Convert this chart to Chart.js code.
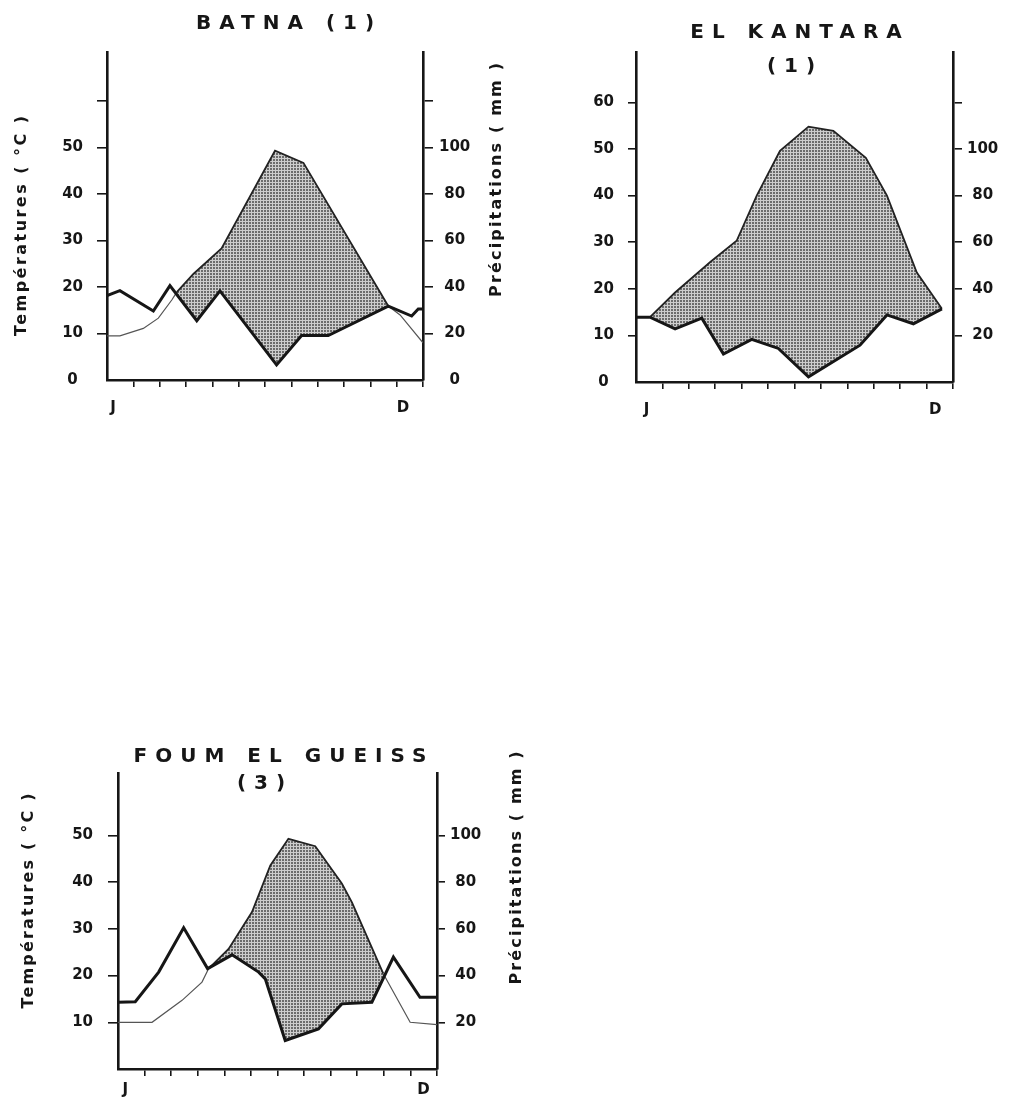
<!DOCTYPE html>
<html><head><meta charset="utf-8">
<script src="https://cdn.jsdelivr.net/npm/chart.js@4.4.1/dist/chart.umd.min.js"></script>
<style>
html,body{margin:0;padding:0;background:#fff;width:1009px;height:1099px;overflow:hidden;}
canvas{position:absolute;}
</style></head><body>
<canvas id="c1" width="520" height="430" style="left:0;top:0;width:520px;height:430px"></canvas>
<canvas id="c2" width="509" height="430" style="left:500px;top:0;width:509px;height:430px"></canvas>
<canvas id="c3" width="540" height="369" style="left:0;top:730px;width:540px;height:369px"></canvas>
<script>
// ---------- DATA (x = month position 0..12, J..D) ----------
const monthTickLabels = ['J', 'D'];
const tempAxisTitle = 'Températures ( °C )';
const precAxisTitle = 'Précipitations ( mm )';

// BATNA (1)
const batnaTitle = ['BATNA (1)'];
const batnaTempMonth = [0, 0.49, 1.38, 1.95, 2.46, 2.65, 3.28, 4.35, 6.38, 7.46, 10.68, 11.13, 12];
const batnaTempC     = [9.5, 9.5, 11.1, 13.3, 17.2, 18.9, 22.8, 28.3, 49.3, 46.7, 15.9, 14.0, 8.0];
const batnaPrecMonth = [0, 0.49, 1.76, 2.39, 3.41, 4.29, 6.44, 7.39, 8.40, 10.68, 11.57, 11.82, 12];
const batnaPrecMm    = [36.3, 38.4, 29.7, 40.6, 25.5, 38.3, 6.5, 19.1, 19.1, 31.8, 27.5, 30.5, 30.5];
const batnaTempTicks = [0, 10, 20, 30, 40, 50, 60];
const batnaTempLabels = ['0', '10', '20', '30', '40', '50', ''];
const batnaPrecTicks = [0, 20, 40, 60, 80, 100, 120];
const batnaPrecLabels = ['0', '20', '40', '60', '80', '100', ''];

// EL KANTARA (1)
const kantaraTitle = ['EL KANTARA', '(1)'];
const kantaraTempMonth = [0.53, 1.48, 2.80, 3.81, 4.57, 5.45, 6.53, 7.47, 8.70, 9.50, 10.63, 11.58];
const kantaraTempC     = [13.9, 19.2, 25.7, 30.3, 40.0, 49.6, 54.8, 53.9, 48.1, 40.0, 23.5, 15.7];
const kantaraPrecMonth = [0, 0.53, 1.48, 2.49, 3.31, 4.38, 5.39, 6.53, 8.48, 9.50, 10.50, 11.58];
const kantaraPrecMm    = [27.8, 27.8, 22.8, 27.4, 12.0, 18.3, 14.4, 2.2, 15.8, 28.8, 25.0, 31.4];
const kantaraTempTicks = [0, 10, 20, 30, 40, 50, 60];
const kantaraTempLabels = ['0', '10', '20', '30', '40', '50', '60'];
const kantaraPrecTicks = [20, 40, 60, 80, 100, 120];
const kantaraPrecLabels = ['20', '40', '60', '80', '100', ''];

// FOUM EL GUEISS (3)
const foumTitle = ['FOUM EL GUEISS', '(3)'];
const foumTempMonth = [0, 1.28, 2.41, 3.16, 3.41, 4.16, 5.04, 5.73, 6.41, 7.42, 8.42, 8.80, 9.98, 10.99, 12];
const foumTempC     = [10.0, 10.0, 14.7, 18.6, 21.5, 25.7, 33.6, 43.6, 49.3, 47.7, 39.7, 35.7, 20.4, 10.0, 9.5];
const foumPrecMonth = [0, 0.65, 1.53, 2.47, 3.37, 4.29, 5.29, 5.54, 6.29, 7.54, 8.42, 9.55, 10.36, 11.36, 12];
const foumPrecMm    = [28.6, 28.8, 41.5, 60.5, 43.0, 48.9, 41.5, 38.6, 12.2, 17.2, 27.9, 28.6, 47.9, 30.7, 30.7];
const foumTempTicks = [10, 20, 30, 40, 50];
const foumTempLabels = ['10', '20', '30', '40', '50'];
const foumPrecTicks = [20, 40, 60, 80, 100];
const foumPrecLabels = ['20', '40', '60', '80', '100'];

// ---------- STYLE ----------
const INK = '#161616';
const FONT = "'DejaVu Sans', 'Liberation Sans', sans-serif";

function makePattern() {
  const c = document.createElement('canvas');
  c.width = 3; c.height = 3;
  const g = c.getContext('2d');
  g.fillStyle = '#cdcdcd'; g.fillRect(0, 0, 3, 3);
  g.fillStyle = '#6c6c6c'; g.fillRect(0, 0, 2, 2);
  return g.createPattern(c, 'repeat');
}
const dotPattern = makePattern();

function drawSpaced(ctx, text, cx, cy, spacing) {
  ctx.textBaseline = 'middle';
  ctx.textAlign = 'left';
  if ('letterSpacing' in ctx) {
    ctx.letterSpacing = spacing + 'px';
    const w = ctx.measureText(text).width - spacing;
    ctx.fillText(text, cx - w / 2, cy);
    ctx.letterSpacing = '0px';
  } else {
    const chars = [...text];
    const ws = chars.map(ch => ctx.measureText(ch).width);
    const total = ws.reduce((a, b) => a + b, 0) + spacing * (chars.length - 1);
    let x = cx - total / 2;
    chars.forEach((ch, i) => { ctx.fillText(ch, x, cy); x += ws[i] + spacing; });
  }
}
function naturalWidth(ctx, text) {
  if ('letterSpacing' in ctx) ctx.letterSpacing = '0px';
  return ctx.measureText(text).width;
}

function interp(xs, ys, x) {
  if (x <= xs[0]) return ys[0];
  for (let i = 1; i < xs.length; i++) {
    if (x <= xs[i]) {
      const t = (x - xs[i - 1]) / (xs[i] - xs[i - 1]);
      return ys[i - 1] + t * (ys[i] - ys[i - 1]);
    }
  }
  return ys[ys.length - 1];
}

function makePanel(id, p) {
  const canvas = document.getElementById(id);
  const W = canvas.width, H = canvas.height;
  const tempPts = p.tempX.map((x, i) => ({ x: x, y: p.tempY[i] }));
  const precPts = p.precX.map((x, i) => ({ x: x, y: p.precY[i] }));
  const isDry = (c) => {
    const xm = (c.p0.parsed.x + c.p1.parsed.x) / 2;
    const tm = (c.p0.parsed.y + c.p1.parsed.y) / 2;
    return tm * 2 > interp(p.precX, p.precY, xm) + 0.5;
  };
  const xTicks = [1, 2, 3, 4, 5, 6, 7, 8, 9, 10, 11, 12, p.jPos, p.dPos].sort((a, b) => a - b);
  const tickFont = { family: FONT, size: 15, weight: 'bold' };

  const textPlugin = {
    id: 'panelText',
    afterDraw(chart) {
      const ctx = chart.ctx;
      ctx.save();
      ctx.fillStyle = INK;
      ctx.font = 'bold 20px ' + FONT;
      p.titles.forEach((t, i) => drawSpaced(ctx, t, p.titlePos[i][0], p.titlePos[i][1], p.titleSpacing));
      ctx.font = 'bold 16px ' + FONT;
      p.axisTitles.forEach(a => {
        const nw = naturalWidth(ctx, a.text);
        const sp = (a.len - nw) / ([...a.text].length - 1);
        ctx.save();
        ctx.translate(a.x, a.y);
        ctx.rotate(-Math.PI / 2);
        drawSpaced(ctx, a.text, 0, 0, sp);
        ctx.restore();
      });
      ctx.restore();
    }
  };

  return new Chart(canvas, {
    type: 'line',
    data: {
      datasets: [
        {
          label: tempAxisTitle, data: tempPts, yAxisID: 'yT', order: 2,
          borderColor: '#4a4a4a', borderWidth: 1.2, pointRadius: 0, tension: 0,
          fill: { target: 1, above: dotPattern, below: 'rgba(0,0,0,0)' },
          segment: {
            borderColor: c => isDry(c) ? '#222' : '#555',
            borderWidth: c => isDry(c) ? 1.8 : 1.2
          }
        },
        {
          label: precAxisTitle, data: precPts, yAxisID: 'yP', order: 1,
          borderColor: INK, borderWidth: 3, pointRadius: 0, tension: 0, fill: false,
          borderJoinStyle: 'miter'
        }
      ]
    },
    options: {
      responsive: false, animation: false, devicePixelRatio: 1,
      layout: { padding: { top: p.top, left: 0, right: 0, bottom: 0 } },
      plugins: { legend: { display: false }, tooltip: { enabled: false }, title: { display: false } },
      scales: {
        x: {
          type: 'linear', position: 'bottom', min: 0, max: 12,
          afterBuildTicks: s => { s.ticks = xTicks.map(v => ({ value: v })); },
          afterFit: s => { s.height = H - p.bottom; },
          grid: {
            drawOnChartArea: false, drawTicks: true, tickLength: 7, lineWidth: 1.6,
            color: c => (c.tick && Number.isInteger(c.tick.value) && c.tick.value > 0) ? INK : 'rgba(0,0,0,0)'
          },
          border: { display: true, color: INK, width: 2.6 },
          ticks: {
            autoSkip: false, maxRotation: 0, minRotation: 0, padding: p.xPad,
            font: tickFont, color: INK,
            callback: v => v === p.jPos ? monthTickLabels[0] : (v === p.dPos ? monthTickLabels[1] : '')
          }
        },
        yT: {
          type: 'linear', position: 'left', min: 0, max: p.tMax,
          afterBuildTicks: s => { s.ticks = p.tTicks.map(v => ({ value: v })); },
          afterFit: s => { s.width = p.left; },
          grid: {
            drawOnChartArea: false, drawTicks: true, tickLength: p.tTick, lineWidth: 1.6,
            color: c => (c.tick && c.tick.value === 0) ? 'rgba(0,0,0,0)' : INK
          },
          border: { display: true, color: INK, width: 2.6 },
          ticks: {
            padding: p.tPad, crossAlign: 'center', font: tickFont, color: INK,
            callback: (v) => { const i = p.tTicks.indexOf(v); return i >= 0 ? p.tLabels[i] : ''; }
          }
        },
        yP: {
          type: 'linear', position: 'right', min: 0, max: 2 * p.tMax,
          afterBuildTicks: s => { s.ticks = p.pTicks.map(v => ({ value: v })); },
          afterFit: s => { s.width = W - p.right; },
          grid: {
            drawOnChartArea: false, drawTicks: true, tickLength: p.pTick, lineWidth: 1.6,
            color: c => (c.tick && c.tick.value === 0) ? 'rgba(0,0,0,0)' : INK
          },
          border: { display: true, color: INK, width: 2.6 },
          ticks: {
            padding: p.pPad, crossAlign: 'center', font: tickFont, color: INK,
            callback: (v) => { const i = p.pTicks.indexOf(v); return i >= 0 ? p.pLabels[i] : ''; }
          }
        }
      }
    },
    plugins: [textPlugin]
  });
}

// ---------- PANELS ----------
makePanel('c1', {
  tempX: batnaTempMonth, tempY: batnaTempC, precX: batnaPrecMonth, precY: batnaPrecMm,
  left: 107, right: 423, top: 52, bottom: 380, tMax: (380 - 52) / 4.65,
  tTicks: batnaTempTicks, tLabels: batnaTempLabels, tTick: 10, tPad: 14,
  pTicks: batnaPrecTicks, pLabels: batnaPrecLabels, pTick: 10, pPad: 6,
  jPos: 0.23, dPos: 11.24, xPad: 12,
  titles: batnaTitle, titlePos: [[285, 24]], titleSpacing: 8,
  axisTitles: [
    { text: tempAxisTitle, x: 22, y: 226, len: 220 },
    { text: precAxisTitle, x: 497, y: 180, len: 234 }
  ]
});

makePanel('c2', {
  tempX: kantaraTempMonth, tempY: kantaraTempC, precX: kantaraPrecMonth, precY: kantaraPrecMm,
  left: 136, right: 453, top: 52, bottom: 382, tMax: (382 - 52) / 4.66,
  tTicks: kantaraTempTicks, tLabels: kantaraTempLabels, tTick: 8, tPad: 14,
  pTicks: kantaraPrecTicks, pLabels: kantaraPrecLabels, pTick: 9, pPad: 5,
  jPos: 0.4, dPos: 11.33, xPad: 12,
  titles: kantaraTitle, titlePos: [[296, 33], [291, 67]], titleSpacing: 8,
  axisTitles: []
});

makePanel('c3', {
  tempX: foumTempMonth, tempY: foumTempC, precX: foumPrecMonth, precY: foumPrecMm,
  left: 118, right: 437, top: 43, bottom: 339, tMax: (339 - 43) / 4.67,
  tTicks: foumTempTicks, tLabels: foumTempLabels, tTick: 10, tPad: 15,
  pTicks: foumPrecTicks, pLabels: foumPrecLabels, pTick: 8, pPad: 5,
  jPos: 0.27, dPos: 11.49, xPad: 5,
  titles: foumTitle, titlePos: [[280, 27], [261, 54]], titleSpacing: 8,
  axisTitles: [
    { text: tempAxisTitle, x: 29, y: 171, len: 215 },
    { text: precAxisTitle, x: 517, y: 138, len: 233 }
  ]
});
</script>
</body></html>
